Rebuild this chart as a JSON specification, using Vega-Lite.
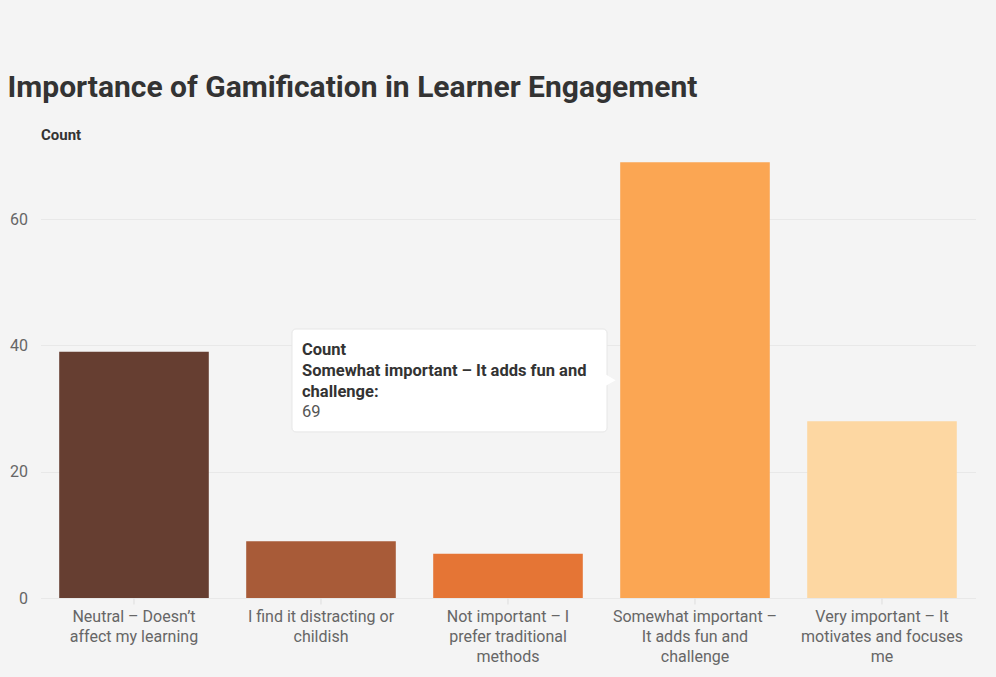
{
  "$schema": "https://vega.github.io/schema/vega-lite/v6.json",
  "width": 935,
  "height": 442,
  "autosize": {"type": "none"},
  "padding": {"left": 40.5, "top": 156, "right": 20.5, "bottom": 79},
  "background": "#f4f4f4",
  "config": {"view": {"stroke": null}, "font": "Roboto"},
  "title": {
    "text": "Importance of Gamification in Learner Engagement",
    "fontSize": 30,
    "fontWeight": "bold",
    "color": "#333333",
    "anchor": "start",
    "frame": "group",
    "dx": -33,
    "offset": 24,
    "font": "Roboto"
  },
  "layer": [
    {
      "data": {
        "values": [
          {"cat": "Neutral – Doesn’t affect my learning", "count": 39},
          {"cat": "I find it distracting or childish", "count": 9},
          {"cat": "Not important – I prefer traditional methods", "count": 7},
          {"cat": "Somewhat important – It adds fun and challenge", "count": 69},
          {"cat": "Very important – It motivates and focuses me", "count": 28}
        ]
      },
      "mark": {"type": "bar"},
      "encoding": {
        "x": {
          "field": "cat",
          "type": "nominal",
          "sort": null,
          "scale": {"paddingInner": 0.2, "paddingOuter": 0.1},
          "axis": {
            "title": null,
            "labelAngle": 0,
            "labelFontSize": 16,
            "labelColor": "#666666",
            "labelLineHeight": 20,
            "labelBaseline": "top",
            "labelPadding": 4,
            "labelLimit": 300,
            "ticks": true,
            "tickSize": 6,
            "tickColor": "#dddddd",
            "domain": false,
            "grid": false,
            "labelExpr": "datum.value == 'Neutral – Doesn’t affect my learning' ? ['Neutral – Doesn’t', 'affect my learning'] : datum.value == 'I find it distracting or childish' ? ['I find it distracting or', 'childish'] : datum.value == 'Not important – I prefer traditional methods' ? ['Not important – I', 'prefer traditional', 'methods'] : datum.value == 'Somewhat important – It adds fun and challenge' ? ['Somewhat important –', 'It adds fun and', 'challenge'] : ['Very important – It', 'motivates and focuses', 'me']"
          }
        },
        "y": {
          "field": "count",
          "type": "quantitative",
          "scale": {"domain": [0, 70], "nice": false},
          "axis": {
            "values": [0, 20, 40, 60],
            "grid": true,
            "gridColor": "#e8e8e8",
            "ticks": false,
            "domain": false,
            "labelPadding": 13,
            "labelFontSize": 16,
            "labelColor": "#666666",
            "title": "Count",
            "titleAngle": 0,
            "titleX": 0,
            "titleY": -17,
            "titleAlign": "left",
            "titleBaseline": "alphabetic",
            "titleFontSize": 15,
            "titleFontWeight": "bold",
            "titleColor": "#333333"
          }
        },
        "color": {
          "field": "cat",
          "type": "nominal",
          "sort": null,
          "scale": {
            "domain": [
              "Neutral – Doesn’t affect my learning",
              "I find it distracting or childish",
              "Not important – I prefer traditional methods",
              "Somewhat important – It adds fun and challenge",
              "Very important – It motivates and focuses me"
            ],
            "range": ["#663e31", "#a85b38", "#e57535", "#fba653", "#fdd7a2"]
          },
          "legend": null
        }
      }
    },
    {
      "data": {"values": [{}]},
      "mark": {"type": "rect", "fill": "#ffffff", "cornerRadius": 4, "stroke": "#e6e6e6", "strokeWidth": 1},
      "encoding": {
        "x": {"datum": "I find it distracting or childish", "type": "nominal", "bandPosition": 0.306},
        "x2": {"datum": "Not important – I prefer traditional methods", "bandPosition": 1.162},
        "y": {"datum": 42.6, "type": "quantitative"},
        "y2": {"datum": 26.3}
      }
    },
    {
      "data": {"values": [{}]},
      "mark": {"type": "point", "shape": "triangle-right", "filled": true, "fill": "#ffffff", "opacity": 1, "size": 140, "strokeWidth": 0},
      "encoding": {
        "x": {"datum": "Not important – I prefer traditional methods", "type": "nominal", "bandPosition": 1.185},
        "y": {"datum": 34.5, "type": "quantitative"}
      }
    },
    {
      "data": {"values": [{}]},
      "mark": {"type": "text", "align": "left", "baseline": "top", "fontSize": 16.5, "fontWeight": "bold", "fill": "#333333", "lineHeight": 21, "font": "Roboto"},
      "encoding": {
        "x": {"datum": "I find it distracting or childish", "type": "nominal", "bandPosition": 0.373},
        "y": {"datum": 40.5, "type": "quantitative"},
        "text": {"value": ["Count", "Somewhat important – It adds fun and", "challenge:"]}
      }
    },
    {
      "data": {"values": [{}]},
      "mark": {"type": "text", "align": "left", "baseline": "top", "fontSize": 16.5, "fontWeight": 400, "fill": "#555555", "font": "Roboto"},
      "encoding": {
        "x": {"datum": "I find it distracting or childish", "type": "nominal", "bandPosition": 0.373},
        "y": {"datum": 30.7, "type": "quantitative"},
        "text": {"value": "69"}
      }
    }
  ]
}
